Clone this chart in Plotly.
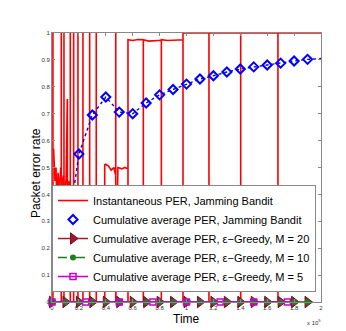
import plotly.graph_objects as go

# instantaneous PER, jamming bandit (x in units of 1e5)
red_x = [0, 0.007, 0.007, 0.007, 0.069, 0.069, 0.069, 0.089, 0.089, 0.089, 0.136, 0.136, 0.136,
         0.161, 0.161, 0.161, 0.193, 0.193, 0.193, 0.230, 0.230, 0.230, 0.280, 0.280, 0.280,
         0.329, 0.329, 0.329, 0.392, 0.392, 0.40, 0.42, 0.44, 0.46, 0.474, 0.474, 0.474, 0.49,
         0.52, 0.54, 0.565, 0.565, 0.565, 0.60, 0.64, 0.679, 0.679, 0.679, 0.72, 0.76, 0.813,
         0.813, 0.813, 0.86, 0.92, 0.974, 0.974, 0.974, 1.167, 1.167, 1.167, 1.403, 1.403,
         1.403, 1.680, 1.680, 1.680, 2.0,
         None, 0.012, 0.018, 0.022, 0.03, 0.035, 0.045, 0.055, 0.065, 0.075, 0.085, 0.095,
         0.105, 0.114, 0.114, 0.125, 0.14]
red_y = [0, 0, 1, 0, 0.0, 1, 0, 0, 1, 0, 0, 1, 0,
         0, 1, 0, 0, 1, 0, 0, 1, 0, 0, 1, 0,
         0, 1, 0, 0, 0.51, 0.512, 0.505, 0.49, 0.5, 0.47, 1, 0, 0.5,
         0.495, 0.5, 0.495, 0, 0.975, 0.972, 0.976, 0.975, 0, 0.975, 0.97, 0.972, 0.973,
         0, 0.975, 0.972, 0.974, 0.975, 0, 1, 1, 0, 1, 1, 0,
         1, 1, 0, 1, 1,
         None, 0.57, 0.52, 0.45, 0.5, 0.38, 0.48, 0.41, 0.5, 0.43, 0.47, 0.4,
         0.46, 0.755, 0.38, 0.45, 0.42]

# cumulative average PER, jamming bandit
blue_x = [0.1, 0.2, 0.3, 0.4, 0.5, 0.6, 0.7, 0.8, 0.9, 1.0, 1.1, 1.2, 1.3, 1.4, 1.5, 1.6,
          1.7, 1.8, 1.9]
blue_y = [0.2, 0.55, 0.695, 0.762, 0.706, 0.70, 0.74, 0.77, 0.79, 0.81, 0.829, 0.841, 0.855,
          0.866, 0.874, 0.881, 0.888, 0.896, 0.902]
blue_end_x = [2.0]
blue_end_y = [0.905]

# epsilon-greedy cumulative averages
m20_x = [0, 0.1, 0.2, 0.3, 0.4, 0.5, 0.6, 0.7, 0.8, 0.9, 1.0, 1.1, 1.2, 1.3, 1.4, 1.5, 1.6,
         1.7, 1.8, 1.9]
m20_y = [0] * len(m20_x)
m10_x = [0, 0.1, 0.2, 0.3, 0.4, 0.5, 0.6, 0.7, 0.8, 0.9, 1.0, 1.1, 1.2, 1.3, 1.4, 1.5, 1.6,
         1.7, 1.8, 1.9]
m10_y = [0] * len(m10_x)
m5_x = [0, 0.25, 0.5, 0.75, 1.0, 1.25, 1.5, 1.75]
m5_y = [0] * len(m5_x)

x_ticks = [0, 0.2, 0.4, 0.6, 0.8, 1, 1.2, 1.4, 1.6, 1.8, 2]
y_ticks = [0, 0.1, 0.2, 0.3, 0.4, 0.5, 0.6, 0.7, 0.8, 0.9, 1]

fig = go.Figure()
fig.add_trace(go.Scatter(x=red_x, y=red_y, mode='lines', connectgaps=False,
                         line=dict(color='#ff0000', width=1.6),
                         name='Instantaneous PER, Jamming Bandit'))
fig.add_trace(go.Scatter(x=blue_x + blue_end_x, y=blue_y + blue_end_y, mode='lines',
                         line=dict(color='#0000ff', width=1.4, dash='dot'),
                         showlegend=False, hoverinfo='skip'))
fig.add_trace(go.Scatter(x=blue_x, y=blue_y, mode='markers',
                         marker=dict(symbol='diamond-open', size=7, color='#0000ff',
                                     line=dict(width=2, color='#0000ff')),
                         name='Cumulative average PER, Jamming Bandit'))
fig.add_trace(go.Scatter(x=m20_x, y=m20_y, mode='lines+markers', cliponaxis=False,
                         line=dict(color='#9e1b32', width=1.5),
                         marker=dict(symbol='triangle-right', size=10, color='#a51435',
                                     line=dict(width=1, color='#7a0d22')),
                         name='Cumulative average PER, \u03b5\u2212Greedy, M = 20'))
fig.add_trace(go.Scatter(x=m10_x, y=m10_y, mode='lines+markers', cliponaxis=False,
                         line=dict(color='#1a801a', width=1.5, dash='dashdot'),
                         marker=dict(symbol='circle', size=6, color='#1a801a'),
                         name='Cumulative average PER, \u03b5\u2212Greedy, M = 10'))
fig.add_trace(go.Scatter(x=m5_x, y=m5_y, mode='lines+markers', cliponaxis=False,
                         line=dict(color='#cc00cc', width=1.6),
                         marker=dict(symbol='square-open', size=6, color='#cc00cc',
                                     line=dict(width=1.5, color='#cc00cc')),
                         name='Cumulative average PER, \u03b5\u2212Greedy, M = 5'))

axis_common = dict(showgrid=False, zeroline=False, showline=True, linecolor='#888888',
                   linewidth=1, mirror='allticks', ticks='inside', ticklen=3,
                   tickcolor='#888888', tickfont=dict(size=6, color='#333333'))

fig.update_layout(
    width=346, height=331,
    margin=dict(l=44, r=33, t=25, b=37),
    paper_bgcolor='white', plot_bgcolor='white',
    font=dict(family='Liberation Sans, Arial', color='black'),
    xaxis=dict(range=[0, 2], tickvals=x_ticks, ticktext=[str(v) for v in x_ticks],
               **axis_common),
    yaxis=dict(range=[0, 1], tickvals=y_ticks, ticktext=[str(v) for v in y_ticks],
               **axis_common),
    legend=dict(x=0.0, y=0.236, xanchor='left', yanchor='middle',
                bgcolor='white', bordercolor='#888888', borderwidth=1,
                font=dict(size=11), tracegroupgap=0, itemwidth=30),
    annotations=[
        dict(text='x 10<sup>5</sup>', x=1, y=0, xref='paper', yref='paper',
             xanchor='right', yanchor='top', yshift=-14, xshift=2,
             showarrow=False, font=dict(size=6, color='#333333')),
        dict(text='Time', x=0.5, y=0, xref='paper', yref='paper',
             xanchor='center', yanchor='middle', yshift=-17,
             showarrow=False, font=dict(size=12)),
        dict(text='Packet error rate', x=0, y=0.48, xref='paper', yref='paper',
             xanchor='center', yanchor='middle', xshift=-16, textangle=-90,
             showarrow=False, font=dict(size=12)),
    ],
    showlegend=True,
)

fig.write_html('out.html')
